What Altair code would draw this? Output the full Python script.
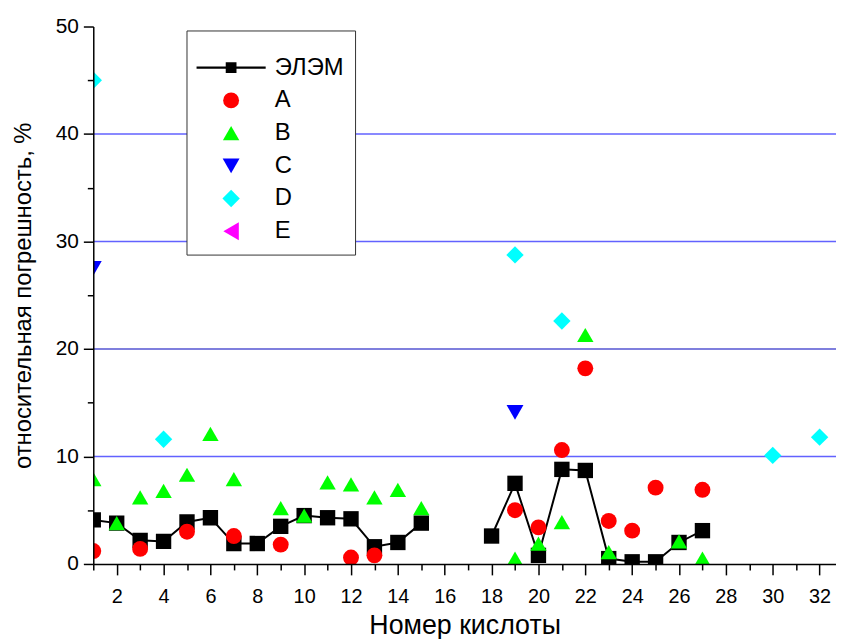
import altair as alt
import pandas as pd

# ---- data ----
series = ["ЭЛЭМ", "A", "B", "C", "D", "E"]
colors = ["#000000", "#ff0000", "#00ff00", "#0000ff", "#00ffff", "#ff00ff"]
# legend glyph for ЭЛЭМ: a line with a square in the middle
elem_glyph = "M-4.5,-0.14H4.5V0.14H-4.5Z M-0.7,-0.7H0.7V0.7H-0.7Z"
shapes = [elem_glyph, "circle", "triangle-up", "triangle-down", "diamond", "triangle-left"]
sizes = [240, 324, 484, 529, 529, 400]

elem_x = [1, 2, 3, 4, 5, 6, 7, 8, 9, 10, 11, 12, 13, 14, 15,
          18, 19, 20, 21, 22, 23, 24, 25, 26, 27]
elem_y = [4.1, 3.8, 2.2, 2.1, 3.9, 4.3, 1.9, 1.9, 3.5, 4.5, 4.3, 4.2, 1.6, 2.0, 3.8,
          2.6, 7.5, 0.8, 8.8, 8.7, 0.5, 0.2, 0.2, 2.0, 3.1]

a_x = [1, 3, 5, 7, 9, 12, 13, 19, 20, 21, 22, 23, 24, 25, 27]
a_y = [1.2, 1.4, 3.0, 2.6, 1.8, 0.6, 0.8, 5.0, 3.4, 10.6, 18.2, 4.0, 3.1, 7.1, 6.9]

b_x = [1, 2, 3, 4, 5, 6, 7, 9, 10, 11, 12, 13, 14, 15, 19, 20, 21, 22, 23, 26, 27]
b_y = [7.9, 3.8, 6.2, 6.8, 8.3, 12.1, 7.9, 5.2, 4.5, 7.6, 7.4, 6.2, 6.9, 5.2,
       0.5, 1.9, 3.9, 21.3, 1.1, 2.1, 0.5]

c_x = [1, 19]
c_y = [27.5, 14.1]

d_x = [1, 4, 19, 21, 30, 32]
d_y = [45.0, 11.6, 28.75, 22.6, 10.1, 11.8]

x_major = list(range(2, 33, 2))
x_minor = list(range(1, 33, 2))
y_major = [0, 10, 20, 30, 40, 50]
y_minor = [5, 15, 25, 35, 45]
grid_light = [10, 30, 40]
grid_dark = [20]

FONT = "Liberation Sans"

# ---- tables ----
elem_df = pd.DataFrame({"x": elem_x, "y": elem_y,
                        "seg": [0 if v < 16 else 1 for v in elem_x]})
parts = []
for name, xs, ys in [("A", a_x, a_y), ("B", b_x, b_y), ("C", c_x, c_y), ("D", d_x, d_y)]:
    parts.append(pd.DataFrame({"series": name, "x": xs, "y": ys}))
pts = pd.concat(parts, ignore_index=True)
pts["order"] = range(len(pts))

xscale = alt.Scale(domain=[1, 32.7], nice=False, zero=False)
yscale = alt.Scale(domain=[0, 50], nice=False, zero=True)

common = dict(tickWidth=1.5, tickColor="black", domainColor="black", domainWidth=1.5,
              grid=False, zindex=1, labelOverlap=False)

x_axis_major = alt.Axis(
    orient="bottom", values=x_major, tickSize=11,
    labelFont=FONT, labelFontSize=20, labelColor="black", labelPadding=12,
    title="Номер кислоты", titleFont=FONT, titleFontSize=27,
    titleFontWeight="normal", titleColor="black", titlePadding=6, **common)
x_axis_minor = alt.Axis(
    orient="bottom", values=x_minor, tickSize=6, labels=False, domain=False,
    title="", **common)
y_axis_major = alt.Axis(
    orient="left", values=y_major, tickSize=10,
    labelFont=FONT, labelFontSize=21, labelColor="black", labelPadding=5,
    title="относительная погрешность, %", titleFont=FONT, titleFontSize=24,
    titleFontWeight="normal", titleColor="black", titlePadding=20, **common)
y_axis_minor = alt.Axis(
    orient="left", values=y_minor, tickSize=6, labels=False, domain=False,
    title="", **common)

legend = alt.Legend(
    orient="none", legendX=94, legendY=4,
    fillColor="white", strokeColor="#333333",
    title=" ", titleFontSize=6, titlePadding=8,
    padding=11.5, symbolOffset=21.5, labelOffset=32, symbolSize=200,
    labelFont=FONT, labelFontSize=24, labelColor="black", rowPadding=9,
)

grid1 = alt.Chart(pd.DataFrame({"g": grid_light})).mark_rule(
    color="#6262ff", strokeWidth=1.5).encode(y=alt.Y("g:Q", scale=yscale, axis=None))
grid2 = alt.Chart(pd.DataFrame({"g": grid_dark})).mark_rule(
    color="#0000bb", strokeWidth=1.2).encode(y=alt.Y("g:Q", scale=yscale, axis=None))

line = alt.Chart(elem_df).mark_line(color="black", strokeWidth=2, clip=True).encode(
    x=alt.X("x:Q", scale=xscale, axis=x_axis_minor),
    y=alt.Y("y:Q", scale=yscale, axis=y_axis_minor),
    detail="seg:N",
)

elem_pts = alt.Chart(elem_df).mark_point(
    filled=True, opacity=1, clip=True, shape="square", color="black", size=sizes[0]
).encode(
    x=alt.X("x:Q", scale=xscale, axis=None),
    y=alt.Y("y:Q", scale=yscale, axis=None),
)

points = alt.Chart(pts).mark_point(filled=True, opacity=1, clip=True).encode(
    x=alt.X("x:Q", scale=xscale, axis=x_axis_major),
    y=alt.Y("y:Q", scale=yscale, axis=y_axis_major),
    color=alt.Color("series:N", scale=alt.Scale(domain=series, range=colors), legend=legend),
    shape=alt.Shape("series:N", scale=alt.Scale(domain=series, range=shapes), legend=legend),
    size=alt.Size("series:N", scale=alt.Scale(domain=series, range=sizes), legend=None),
    order=alt.Order("order:Q"),
)

chart = alt.layer(grid1, grid2, line, elem_pts, points).resolve_axis(
    x="independent", y="independent"
).properties(
    width=749, height=542,
    padding={"left": 86, "top": 16, "right": 0, "bottom": 73},
    autosize=alt.AutoSizeParams(type="none"),
    background="white",
).configure_view(strokeWidth=0)

chart.save("out.html", embed_options={"renderer": "svg", "actions": False})
